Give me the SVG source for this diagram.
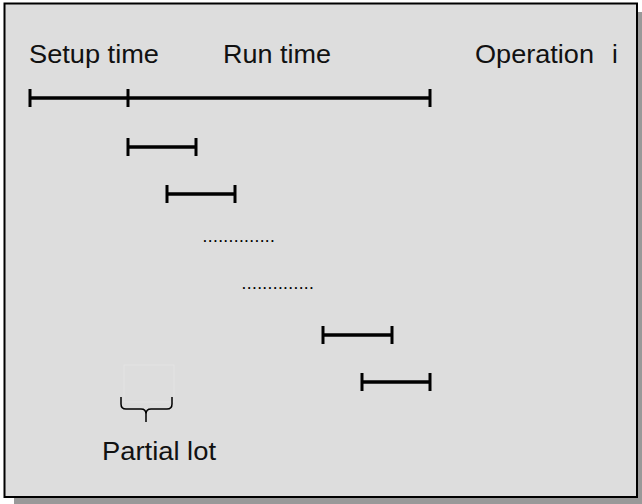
<svg xmlns="http://www.w3.org/2000/svg" width="642" height="504" viewBox="0 0 642 504">
<style>
.lbl{font-family:"Liberation Sans",Arial,sans-serif;font-size:26px;fill:#111}
.dots{font-family:"Liberation Sans",Arial,sans-serif;font-size:12px;font-weight:bold;fill:#000;letter-spacing:1.86px}
.bar{stroke:#000;stroke-width:3.5;fill:none}
.tick{stroke:#000;stroke-width:3;fill:none}
</style>
<g id="frame">
<rect x="14" y="12" width="628" height="492" fill="#999999"/>
<rect x="4.5" y="3.5" width="632.5" height="493.5" fill="#dddddd" stroke="#000" stroke-width="2"/>
</g>
<g id="labels">
<text class="lbl" x="29" y="62.5" textLength="130" lengthAdjust="spacingAndGlyphs">Setup time</text>
<text class="lbl" x="223" y="62.5" textLength="108" lengthAdjust="spacingAndGlyphs">Run time</text>
<text class="lbl" x="475" y="62.5"><tspan textLength="119" lengthAdjust="spacingAndGlyphs">Operation</tspan><tspan x="612">i</tspan></text>
</g>
<g id="connectors">
<g id="bar-main">
<line class="bar" x1="30" y1="98" x2="430" y2="98"/>
<line class="tick" x1="30" y1="89" x2="30" y2="107"/>
<line class="tick" x1="128" y1="89" x2="128" y2="107"/>
<line class="tick" x1="430" y1="89" x2="430" y2="107"/>
</g>
<g id="bar-1">
<line class="bar" x1="128" y1="147" x2="196" y2="147"/>
<line class="tick" x1="128" y1="138" x2="128" y2="156"/>
<line class="tick" x1="196" y1="138" x2="196" y2="156"/>
</g>
<g id="bar-2">
<line class="bar" x1="167" y1="194" x2="235" y2="194"/>
<line class="tick" x1="167" y1="185" x2="167" y2="203"/>
<line class="tick" x1="235" y1="185" x2="235" y2="203"/>
</g>
<g id="bar-3">
<line class="bar" x1="323" y1="335" x2="392" y2="335"/>
<line class="tick" x1="323" y1="326" x2="323" y2="344"/>
<line class="tick" x1="392" y1="326" x2="392" y2="344"/>
</g>
<g id="bar-4">
<line class="bar" x1="362" y1="382" x2="430" y2="382"/>
<line class="tick" x1="362" y1="373" x2="362" y2="391"/>
<line class="tick" x1="430" y1="373" x2="430" y2="391"/>
</g>
</g>
<g id="ellipsis">
<text class="dots" x="203.3" y="241.6">..............</text>
<text class="dots" x="242.3" y="289">..............</text>
</g>
<g id="partial-lot">
<rect x="124" y="365" width="50" height="37" fill="none" stroke="#e3e3e3" stroke-width="1"/>
<path d="M121,397 V404 Q121,409 126,409 H141 Q146,409 146,414 V422 M146,414 Q146,409 151,409 H167 Q172,409 172,404 V397" fill="none" stroke="#000" stroke-width="1.5"/>
<text class="lbl" x="102" y="460" textLength="114" lengthAdjust="spacingAndGlyphs">Partial lot</text>
</g>
</svg>
